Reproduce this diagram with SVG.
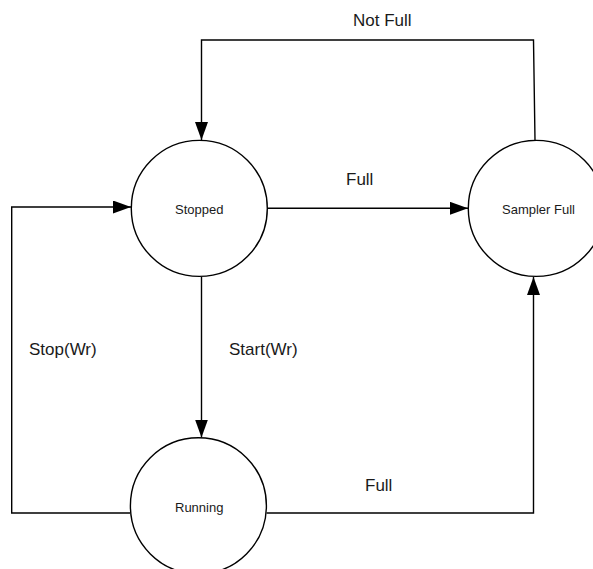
<svg xmlns="http://www.w3.org/2000/svg" width="593" height="569" viewBox="0 0 593 569">
<defs>
<marker id="arrow" viewBox="0 0 18 13" refX="18" refY="6.5" markerWidth="18" markerHeight="13" orient="auto" markerUnits="userSpaceOnUse">
<path d="M0,0 L18,6.5 L0,13 Z" fill="#000"/>
</marker>
<style>
.node circle { fill: #fff; stroke: #000; stroke-width: 1.4; }
.node text { font-family: "Liberation Sans", Arial, sans-serif; font-size: 13px; fill: #1a1a1a; }
.edge path { fill: none; stroke: #000; stroke-width: 1.4; }
.lbl { font-family: "Liberation Sans", Arial, sans-serif; font-size: 17px; fill: #1a1a1a; }
</style>
</defs>
<rect width="593" height="569" fill="#fff"/>
<g id="connectors" class="edge">
<path d="M535,140 L533.5,40 L201.5,40 L201.5,140" marker-end="url(#arrow)"/>
<path d="M267,208.3 L468,208.3" marker-end="url(#arrow)"/>
<path d="M201.5,277 L201.5,437.5" marker-end="url(#arrow)"/>
<path d="M130,513 L11.7,513 L11.7,207 L131,207" marker-end="url(#arrow)"/>
<path d="M266.5,513 L533.5,513 L533.5,277" marker-end="url(#arrow)"/>
</g>
<g id="labels">
<text class="lbl" x="353" y="25.5">Not Full</text>
<text class="lbl" x="346" y="184.5">Full</text>
<text class="lbl" x="29" y="355">Stop(Wr)</text>
<text class="lbl" x="229" y="355">Start(Wr)</text>
<text class="lbl" x="365" y="490.5">Full</text>
</g>
<g id="stopped" class="node">
<circle cx="199.3" cy="208.4" r="68"/>
<text x="175" y="214.3">Stopped</text>
</g>
<g id="sampler-full" class="node">
<circle cx="536.3" cy="208.4" r="68"/>
<text x="502" y="214.3">Sampler Full</text>
</g>
<g id="running" class="node">
<circle cx="198.4" cy="505.8" r="68"/>
<text x="175" y="511.5">Running</text>
</g>
</svg>
